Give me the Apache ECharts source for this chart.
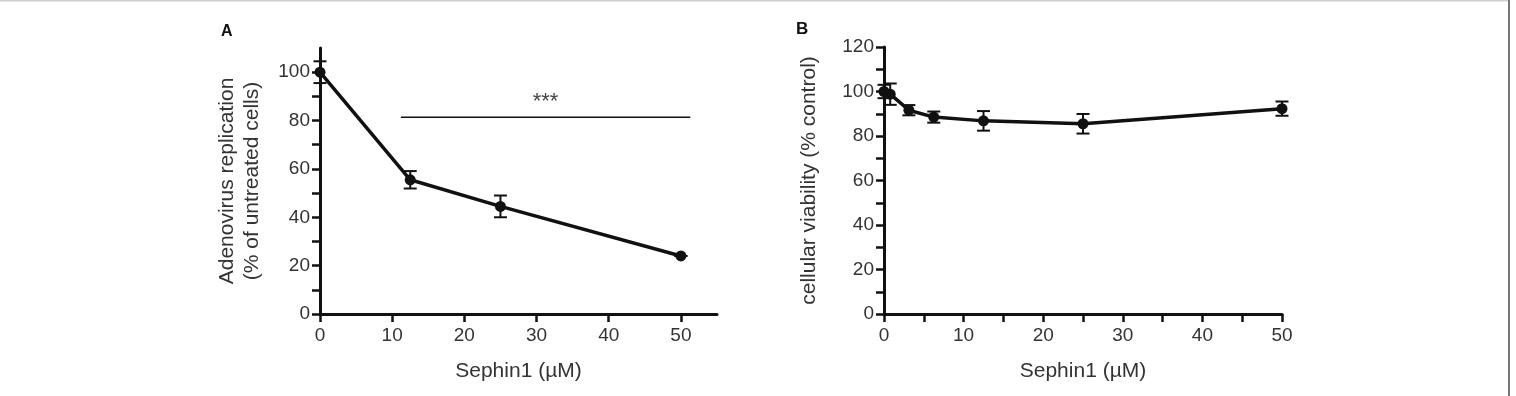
<!DOCTYPE html>
<html>
<head>
<meta charset="utf-8">
<script src="https://cdn.jsdelivr.net/npm/echarts@6/dist/echarts.min.js"></script>
<style>
  html, body { margin: 0; padding: 0; background: #fff; }
  #main { width: 1516px; height: 396px; }
</style>
</head>
<body>
<div id="main"></div>
<script>
// panel A: adenovirus replication vs Sephin1
const doseA = [0, 12.5, 25, 50];
const replication = [100, 55.5, 44.5, 24];
const replicationErr = [4.5, 3.6, 4.5, 0];
const signifSpan = [11.2, 51.3];
const signifLevel = 81.4;

// panel B: cellular viability vs Sephin1
const doseB = [0, 0.78, 3.125, 6.25, 12.5, 25, 50];
const viability = [100, 98.8, 91.6, 88.5, 86.8, 85.5, 92.3];
const viabilityErr = [3, 4.8, 2.3, 2.5, 4.4, 4.4, 3.2];

// tick values
const xTicksA = [0, 10, 20, 30, 40, 50];
const yTicksA = [0, 10, 20, 30, 40, 50, 60, 70, 80, 90, 100];
const yLabelsA = [0, 20, 40, 60, 80, 100];
const xTicksB = [0, 5, 10, 15, 20, 25, 30, 35, 40, 45, 50];
const xLabelsB = [0, 10, 20, 30, 40, 50];
const yTicksB = [0, 10, 20, 30, 40, 50, 60, 70, 80, 90, 100, 110, 120];
const yLabelsB = [0, 20, 40, 60, 80, 100, 120];

const FONT = 'Liberation Sans, Arial, sans-serif';
const TXT = '#333';

const chart = echarts.init(document.getElementById('main'));

function pairs(xs, ys) {
  return xs.map((x, i) => [x, ys[i]]);
}

function errData(xs, ys, es) {
  return xs.map((x, i) => [x, ys[i] - es[i], ys[i] + es[i]]);
}

function renderErr(params, api) {
  const lo = api.coord([api.value(0), api.value(1)]);
  const hi = api.coord([api.value(0), api.value(2)]);
  const w = 6.5;
  const style = { stroke: '#111', lineWidth: 2 };
  return {
    type: 'group',
    children: [
      { type: 'line', shape: { x1: lo[0], y1: lo[1], x2: hi[0], y2: hi[1] }, style },
      { type: 'line', shape: { x1: lo[0] - w, y1: lo[1], x2: lo[0] + w, y2: lo[1] }, style },
      { type: 'line', shape: { x1: hi[0] - w, y1: hi[1], x2: hi[0] + w, y2: hi[1] }, style }
    ]
  };
}

function xAxis(idx, max, ticks, labels) {
  return {
    type: 'value', gridIndex: idx, min: 0, max: max,
    name: 'Sephin1 (µM)', nameLocation: 'middle', nameGap: 47,
    nameTextStyle: { fontFamily: FONT, fontSize: 21, color: TXT },
    axisLine: { show: true, onZero: false, lineStyle: { color: '#111', width: 3 } },
    axisTick: { show: true, length: 8, customValues: ticks, lineStyle: { color: '#111', width: 2.5 } },
    axisLabel: { customValues: labels, margin: 12, fontFamily: FONT, fontSize: 19, color: TXT },
    splitLine: { show: false }
  };
}

function yAxis(idx, max, ticks, labels, name, gap) {
  return {
    type: 'value', gridIndex: idx, min: 0, max: max,
    name: name, nameLocation: 'middle', nameGap: gap,
    nameTextStyle: { fontFamily: FONT, fontSize: 21, color: TXT, lineHeight: 25 },
    axisLine: { show: true, lineStyle: { color: '#111', width: 3 } },
    axisTick: { show: true, length: 8, customValues: ticks, lineStyle: { color: '#111', width: 2.5 } },
    axisLabel: { customValues: labels, margin: 10, fontFamily: FONT, fontSize: 19, color: TXT },
    splitLine: { show: false }
  };
}

chart.setOption({
  backgroundColor: '#fff',
  animation: false,
  grid: [
    { left: 320, top: 48, width: 397, height: 266 },
    { left: 884, top: 47, width: 398, height: 267 }
  ],
  xAxis: [
    xAxis(0, 55, xTicksA, xTicksA),
    xAxis(1, 50, xTicksB, xLabelsB)
  ],
  yAxis: [
    yAxis(0, 110, yTicksA, yLabelsA, 'Adenovirus replication\n(% of untreated cells)', 55),
    yAxis(1, 120, yTicksB, yLabelsB, 'cellular viability (% control)', 62)
  ],
  graphic: [
    { type: 'text', left: 221, top: 24, style: { text: 'A', font: 'bold 16px ' + FONT, fill: '#111' } },
    { type: 'text', left: 796, top: 21, style: { text: 'B', font: 'bold 17px ' + FONT, fill: '#111' } },
    { type: 'rect', shape: { x: 0, y: 0, width: 1509, height: 1.5 }, style: { fill: '#cfcfcf' } },
    { type: 'rect', shape: { x: 1508, y: 0, width: 2, height: 396 }, style: { fill: '#777' } }
  ],
  series: [
    {
      type: 'custom', xAxisIndex: 0, yAxisIndex: 0, z: 3,
      data: errData(doseA, replication, replicationErr),
      renderItem: renderErr
    },
    {
      type: 'line', xAxisIndex: 0, yAxisIndex: 0, z: 4,
      data: pairs(doseA, replication),
      symbol: 'circle', symbolSize: 11,
      lineStyle: { color: '#111', width: 3.5 },
      itemStyle: { color: '#111' }
    },
    {
      type: 'line', xAxisIndex: 0, yAxisIndex: 0, z: 2,
      data: signifSpan.map(x => [x, signifLevel]),
      symbol: 'none',
      lineStyle: { color: '#111', width: 1.5 },
      markPoint: {
        symbol: 'circle', symbolSize: 0,
        data: [{ coord: [(signifSpan[0] + signifSpan[1]) / 2, signifLevel] }],
        label: {
          show: true, formatter: '***', position: 'top', distance: 4,
          fontFamily: FONT, fontSize: 22, color: '#444'
        }
      }
    },
    {
      type: 'custom', xAxisIndex: 1, yAxisIndex: 1, z: 3,
      data: errData(doseB, viability, viabilityErr),
      renderItem: renderErr
    },
    {
      type: 'line', xAxisIndex: 1, yAxisIndex: 1, z: 4,
      data: pairs(doseB, viability),
      symbol: 'circle', symbolSize: 11,
      lineStyle: { color: '#111', width: 3.5 },
      itemStyle: { color: '#111' }
    }
  ]
});
</script>
</body>
</html>
